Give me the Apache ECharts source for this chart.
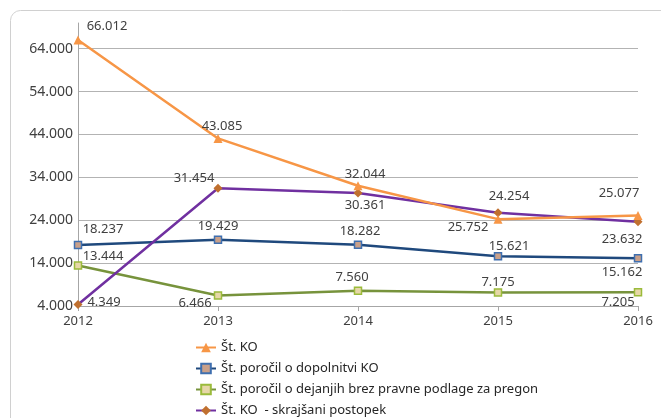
<!DOCTYPE html>
<html>
<head>
<meta charset="utf-8">
<script src="https://cdn.jsdelivr.net/npm/echarts@6/dist/echarts.min.js"></script>
<style>
  html, body { margin: 0; padding: 0; background: #ffffff; }
  #chart { width: 661px; height: 418px; }
</style>
</head>
<body>
<div id="chart"></div>
<script>
  // podatki
  var years = ['2012', '2013', '2014', '2015', '2016'];
  var seriesNames = [
    'Št. KO',
    'Št. poročil o dopolnitvi KO',
    'Št. poročil o dejanjih brez pravne podlage za pregon',
    'Št. KO  - skrajšani postopek'
  ];
  var stKO = [66012, 43085, 32044, 24254, 25077];
  var stDopolnitev = [18237, 19429, 18282, 15621, 15162];
  var stBrezPodlage = [13444, 6466, 7560, 7175, 7205];
  var stSkrajsani = [4349, 31454, 30361, 25752, 23632];

  // odmiki oznak (px) od točke, kot v Excelu
  var offKO = [[29, -14], [4, -12], [7, -11], [11, -23], [-19, -22]];
  var offDop = [[25, -16], [0, -14], [2, -13], [11, -10], [-16, 14]];
  var offBrez = [[25, -9], [-23, 8], [-6, -13], [0, -10], [-20, 10]];
  var offSkr = [[26, -2], [-24, -10], [7, 12], [-30, 15], [-16, 17]];

  function fmt(v) {
    var s = String(v);
    return s.length > 3 ? s.slice(0, -3) + '.' + s.slice(-3) : s;
  }

  function withLabels(values, offsets) {
    return values.map(function (v, i) {
      return { value: v, label: { offset: offsets[i] } };
    });
  }

  var labelStyle = {
    show: true,
    position: 'inside',
    color: '#404040',
    fontFamily: 'Noto Sans',
    fontSize: 13,
    formatter: function (p) { return fmt(p.value); }
  };

  var dom = document.getElementById('chart');
  var myChart = echarts.init(dom);
  var option = {
    animation: false,
    textStyle: { fontFamily: 'Noto Sans' },
    graphic: [{
      type: 'rect',
      left: 8, top: 8,
      shape: { width: 720, height: 480, r: 10 },
      style: { fill: 'none', stroke: '#d0d0d0', lineWidth: 1 },
      z: -1
    }],
    grid: { left: 78, right: 23, top: 23, bottom: 112 },
    legend: {
      orient: 'vertical',
      left: 195,
      top: 341,
      height: 80,
      padding: 0,
      itemWidth: 20,
      itemHeight: 12,
      itemGap: 8,
      textStyle: { color: '#262626', fontSize: 13, fontFamily: 'Noto Sans' },
      data: seriesNames
    },
    xAxis: {
      type: 'category',
      boundaryGap: false,
      data: years,
      axisLine: { lineStyle: { color: '#a6a6a6', width: 1 } },
      axisTick: { show: true, length: 5, lineStyle: { color: '#a6a6a6' } },
      axisLabel: { color: '#404040', fontSize: 13, margin: 9 }
    },
    yAxis: {
      type: 'value',
      min: 4000,
      max: 70000,
      interval: 10000,
      axisLine: { show: true, lineStyle: { color: '#a6a6a6' } },
      axisTick: { show: false },
      axisLabel: {
        color: '#404040', fontSize: 14, margin: 5,
        showMaxLabel: false,
        formatter: function (v) { return fmt(v); }
      },
      splitLine: { show: true, showMaxLine: false, lineStyle: { color: '#b3b3b3', width: 1 } }
    },
    series: [
      {
        name: seriesNames[0], type: 'line',
        data: withLabels(stKO, offKO),
        symbol: 'triangle', symbolSize: 9,
        lineStyle: { color: '#F79646', width: 2.5 },
        itemStyle: { color: '#F79646' },
        label: labelStyle, z: 4
      },
      {
        name: seriesNames[1], type: 'line',
        data: withLabels(stDopolnitev, offDop),
        symbol: 'rect', symbolSize: 7,
        lineStyle: { color: '#1F497D', width: 2.5 },
        itemStyle: { color: '#C9A08A', borderColor: '#3F6FAF', borderWidth: 1.5 },
        label: labelStyle, z: 3
      },
      {
        name: seriesNames[2], type: 'line',
        data: withLabels(stBrezPodlage, offBrez),
        symbol: 'rect', symbolSize: 7,
        lineStyle: { color: '#77933C', width: 2.5 },
        itemStyle: { color: '#E6D7A8', borderColor: '#9BBB3B', borderWidth: 1.5 },
        label: labelStyle, z: 3
      },
      {
        name: seriesNames[3], type: 'line',
        data: withLabels(stSkrajsani, offSkr),
        symbol: 'diamond', symbolSize: 9,
        lineStyle: { color: '#7030A0', width: 2.5 },
        itemStyle: { color: '#C0702F' },
        label: labelStyle, z: 3
      }
    ]
  };
  myChart.setOption(option, true);
  window.addEventListener('resize', function () {
    myChart.resize();
  });
</script>
</body>
</html>
